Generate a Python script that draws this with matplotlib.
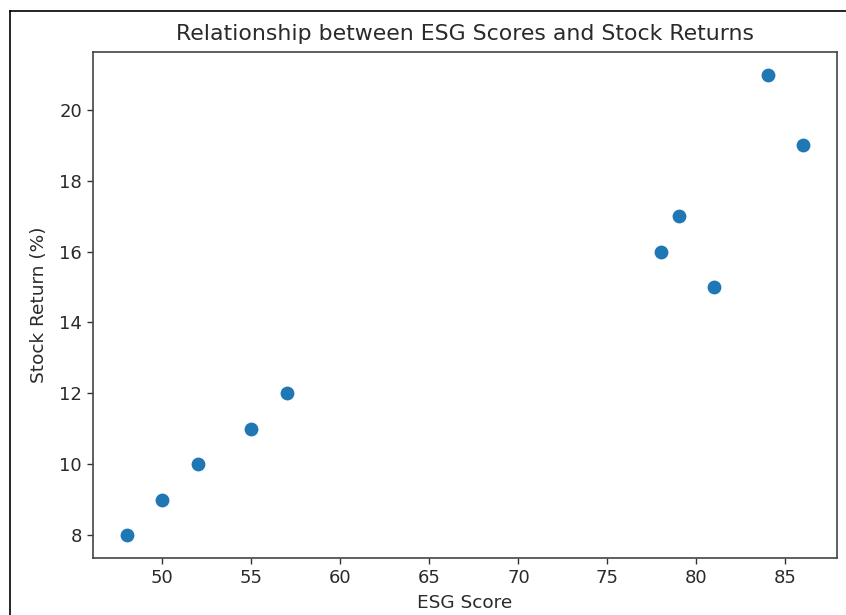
import matplotlib
matplotlib.use("Agg")
import matplotlib.pyplot as plt
from matplotlib.lines import Line2D

esg_scores = [48, 50, 52, 55, 57, 78, 79, 81, 84, 86]
stock_returns = [8, 9, 10, 11, 12, 16, 17, 15, 21, 19]

W, H = 846, 615
fig = plt.figure(figsize=(W / 100, H / 100), dpi=100)
ax = fig.add_axes([93 / W, 1 - 558 / H, (837 - 93) / W, (558 - 51.5) / H])

txt = "#2a2a2a"
ax.scatter(esg_scores, stock_returns, s=80, color="#1f77b4")
ax.set_title("Relationship between ESG Scores and Stock Returns", fontsize=15.8, pad=8, color=txt)
ax.set_xlabel("ESG Score", fontsize=13.3, labelpad=5, color=txt)
ax.set_ylabel("Stock Return (%)", fontsize=13.3, labelpad=8, color=txt)
ax.tick_params(labelsize=13, length=4.5, width=1, colors="#333333", labelcolor=txt)
for s in ax.spines.values():
    s.set_color("#444444")
    s.set_linewidth(1.2)

# outer frame (cropped figure border)
fig.add_artist(Line2D([10 / W, 10 / W], [0, 1 - 11 / H], transform=fig.transFigure, color="black", lw=1.2))
fig.add_artist(Line2D([10 / W, 1], [1 - 11 / H, 1 - 11 / H], transform=fig.transFigure, color="black", lw=1.2))

fig.savefig("out.png", dpi=100)
